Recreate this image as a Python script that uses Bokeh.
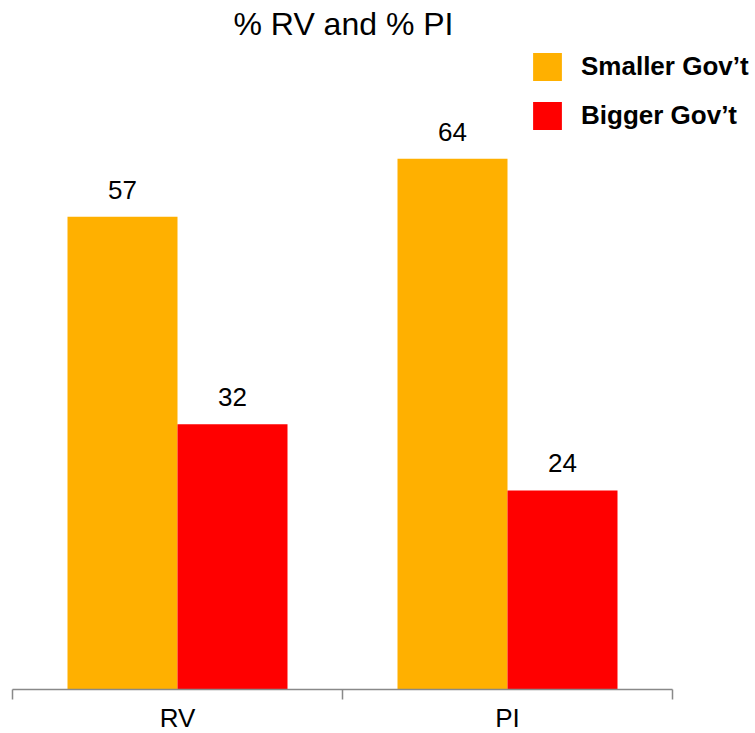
from bokeh.plotting import figure
from bokeh.models import LinearAxis, FixedTicker, Legend, LegendItem, ColumnDataSource, Range1d
from bokeh.core.properties import value
from bokeh.embed import file_html
from bokeh.resources import INLINE

categories = ["RV", "PI"]
smaller_gov = [57, 64]
bigger_gov = [32, 24]
series_names = ["Smaller Gov\u2019t", "Bigger Gov\u2019t"]
colors = ["#FFB000", "#FF0000"]
title_text = "% RV and % PI"

n = len(categories)
bar_w = 1 / 3
centers = [i + 0.5 for i in range(n)]

src = ColumnDataSource(dict(
    x_small=[c - bar_w / 2 for c in centers],
    x_big=[c + bar_w / 2 for c in centers],
    small=smaller_gov,
    big=bigger_gov,
    small_lbl=[str(v) for v in smaller_gov],
    big_lbl=[str(v) for v in bigger_gov],
))

FONT = "Liberation Sans"

p = figure(
    x_range=Range1d(0, 743 / 330),
    y_range=Range1d(0, 640 / 8.28),
    width=755, height=735,
    output_backend="svg", toolbar_location=None,
    x_axis_location=None, y_axis_location=None,
    min_border_left=12, min_border_right=0, min_border_top=48, min_border_bottom=0,
    title=title_text,
)
p.outline_line_color = None
p.xgrid.visible = False
p.ygrid.visible = False
p.title.align = "left"
p.title.offset = 221
p.title.vertical_align = "top"
p.title.text_font = FONT
p.title.text_font_size = "32px"
p.title.text_font_style = "normal"
p.title.text_color = "#000000"

r1 = p.vbar(x="x_small", top="small", width=bar_w, source=src,
            fill_color=colors[0], line_color=None)
r2 = p.vbar(x="x_big", top="big", width=bar_w, source=src,
            fill_color=colors[1], line_color=None)

for xc, col, lbl in (("x_small", "small", "small_lbl"), ("x_big", "big", "big_lbl")):
    p.text(x=xc, y=col, text=lbl, source=src,
           text_align="center", text_baseline="alphabetic", y_offset=-27,
           text_font=value(FONT), text_font_size="26px", text_color="#000000")

ax = LinearAxis(
    ticker=FixedTicker(ticks=centers, minor_ticks=list(range(n + 1))),
    major_label_overrides={c: name for c, name in zip(centers, categories)},
    bounds=(0, n),
)
ax.axis_line_color = "#898989"
ax.axis_line_width = 1.5
ax.major_tick_line_color = None
ax.major_tick_out = 0
ax.major_tick_in = 0
ax.minor_tick_line_color = "#898989"
ax.minor_tick_line_width = 1.5
ax.minor_tick_out = 10
ax.minor_tick_in = 0
ax.major_label_standoff = 3
ax.major_label_text_font = FONT
ax.major_label_text_font_size = "26px"
ax.major_label_text_color = "#000000"
p.add_layout(ax, "below")

legend = Legend(
    items=[LegendItem(label=series_names[0], renderers=[r1]),
           LegendItem(label=series_names[1], renderers=[r2])],
    location=(517, 556),
    glyph_width=36, glyph_height=35, label_standoff=16, spacing=14, label_height=35,
    padding=0, margin=0, border_line_color=None, background_fill_alpha=0,
    label_text_font=FONT, label_text_font_size="26px", label_text_font_style="bold",
    label_text_color="#000000",
)
p.add_layout(legend, "center")

open("out.html", "w").write(file_html(p, INLINE))
